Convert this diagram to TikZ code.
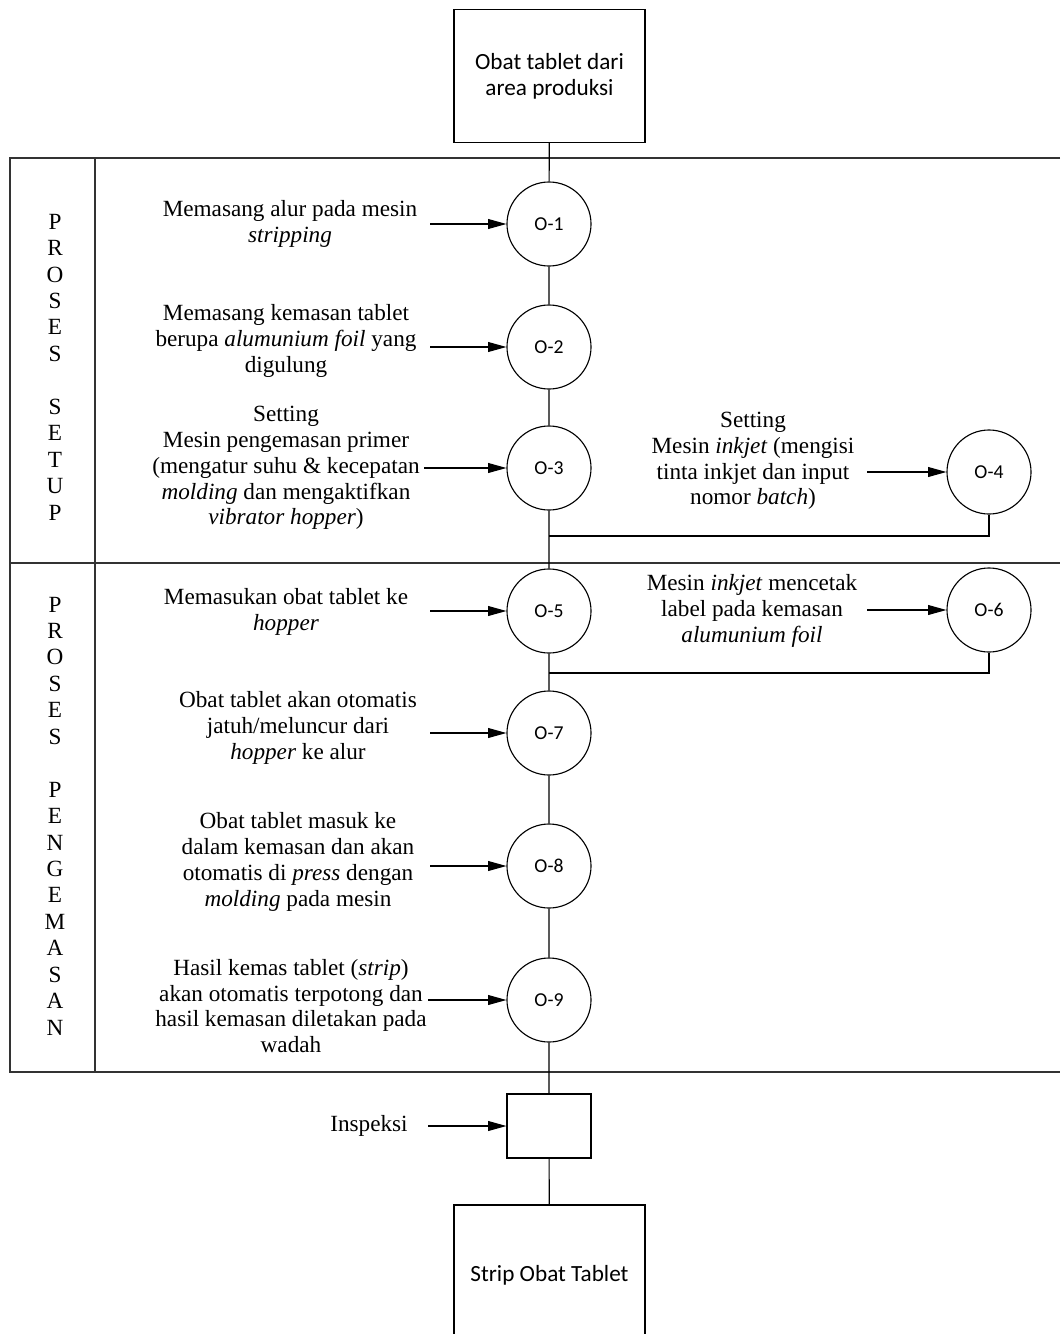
\documentclass[tikz,border=0pt]{standalone}
\usepackage{fontspec}
\setmainfont{Liberation Serif}
\newfontfamily\calfont{Carlito}
\usetikzlibrary{arrows.meta}
\begin{document}
\begin{tikzpicture}[x=0.025cm,y=-0.025cm,line width=0.8pt,
    op/.style={draw,circle,minimum size=2.1cm,inner sep=0pt,font=\calfont\fontsize{14}{16}\selectfont},
    bigbox/.style={draw,minimum width=4.775cm,minimum height=3.325cm,align=center,font=\calfont\fontsize{16.5}{18.5}\selectfont},
    inspbox/.style={draw,minimum width=2.1cm,minimum height=1.6cm,inner sep=0pt},
    desc/.style={align=center,inner sep=0pt,font=\fontsize{16.5}{18.35}\selectfont},
    lanetext/.style={align=center,inner sep=0pt,font=\fontsize{16.5}{18.8}\selectfont},
    laneline/.style={draw=black!80},
    feed/.style={-{Triangle[length=13pt,width=7pt]}}]
  \useasboundingbox (0,0) rectangle (1060,1334);
  \draw
    (549.5,76) node[bigbox] (start){Obat tablet dari\\area produksi}
    (549.5,1275) node[bigbox,minimum height=3.5cm] (finish){Strip Obat Tablet}
    (549,224) node[op] (o1){O-1}
    (549,347) node[op] (o2){O-2}
    (549,468) node[op] (o3){O-3}
    (989,472) node[op] (o4){O-4}
    (549,611) node[op] (o5){O-5}
    (989,610) node[op] (o6){O-6}
    (549,733) node[op] (o7){O-7}
    (549,866) node[op] (o8){O-8}
    (549,1000) node[op] (o9){O-9}
    (549,1126) node[inspbox] (insp){};
  \draw
    (290,224) node[desc] (t1){Memasang alur pada mesin\\\textit{stripping}}
    (286,341) node[desc] (t2){Memasang kemasan tablet\\berupa \textit{alumunium foil} yang\\digulung}
    (286,468) node[desc] (t3){Setting\\Mesin pengemasan primer\\(mengatur suhu \& kecepatan\\\textit{molding} dan mengaktifkan\\\textit{vibrator hopper})}
    (753,461) node[desc] (t4){Setting\\Mesin \textit{inkjet} (mengisi\\tinta inkjet dan input\\nomor \textit{batch})}
    (286,612) node[desc] (t5){Memasukan obat tablet ke\\\textit{hopper}}
    (752,611) node[desc] (t6){Mesin \textit{inkjet} mencetak\\label pada kemasan\\\textit{alumunium foil}}
    (298,728) node[desc] (t7){Obat tablet akan otomatis\\jatuh/meluncur dari\\\textit{hopper} ke alur}
    (298,862) node[desc] (t8){Obat tablet masuk ke\\dalam kemasan dan akan\\otomatis di \textit{press} dengan\\\textit{molding} pada mesin}
    (291,1006) node[desc] (t9){Hasil kemas tablet (\textit{strip})\\akan otomatis terpotong dan\\hasil kemasan diletakan pada\\wadah}
    (369,1126) node[desc] (t10){Inspeksi}
    (55,367) node[lanetext] (setup){P\\R\\O\\S\\E\\S\\[18.8pt]S\\E\\T\\U\\P}
    (55,816) node[lanetext] (pack){P\\R\\O\\S\\E\\S\\[18.8pt]P\\E\\N\\G\\E\\M\\A\\S\\A\\N};
  \begin{scope}[laneline]
    \draw (1060,158) -- (10,158) -- (10,1072) -- (1060,1072);
    \draw (10,563) -- (1060,563);
    \draw (95,158) -- (95,1072);
  \end{scope}
  \coordinate (j4) at (549,536);
  \coordinate (j6) at (549,673);
  \coordinate (in1) at (430,224);
  \coordinate (in2) at (430,347);
  \coordinate (in3) at (424,468);
  \coordinate (in4) at (867,472);
  \coordinate (in5) at (430,611);
  \coordinate (in6) at (867,610);
  \coordinate (in7) at (430,733);
  \coordinate (in8) at (430,866);
  \coordinate (in9) at (428,1000);
  \coordinate (in10) at (428,1126);
  \draw (start) -- (o1) -- (o2) -- (o3) -- (o5) -- (o7) -- (o8) -- (o9) -- (insp) -- (finish);
  \draw (o4.south) |- (j4);
  \draw (o6.south) |- (j6);
  \begin{scope}[feed]
    \draw (in1) to (o1);
    \draw (in2) to (o2);
    \draw (in3) to (o3);
    \draw (in4) to (o4);
    \draw (in5) to (o5);
    \draw (in6) to (o6);
    \draw (in7) to (o7);
    \draw (in8) to (o8);
    \draw (in9) to (o9);
    \draw (in10) to (insp);
  \end{scope}
\end{tikzpicture}
\end{document}
